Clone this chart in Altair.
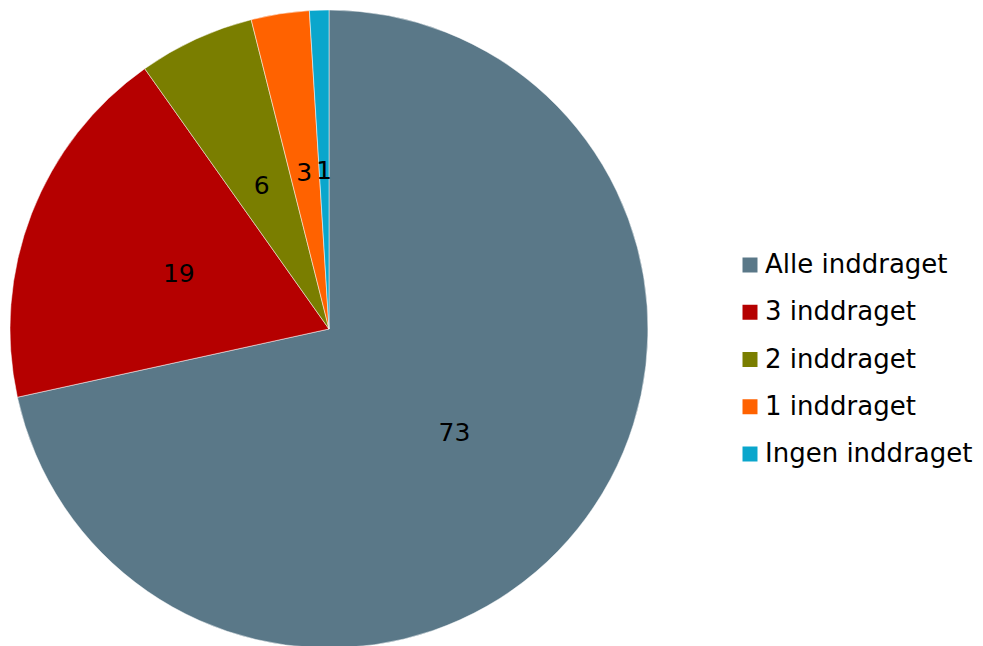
import altair as alt
import pandas as pd

categories = ["Alle inddraget", "3 inddraget", "2 inddraget", "1 inddraget", "Ingen inddraget"]
values = [73, 19, 6, 3, 1]
colors = ["#5A7888", "#B50000", "#7A7E00", "#FF6200", "#0AA6CC"]

df = pd.DataFrame({"category": categories, "value": values, "order": list(range(len(categories)))})

CX, CY = 321, 321

base = alt.Chart(df).encode(
    theta=alt.Theta("value:Q", stack=True),
    order=alt.Order("order:Q"),
)

arc = base.mark_arc(outerRadius=319, stroke="white", strokeWidth=0.5).encode(
    x=alt.value(CX),
    y=alt.value(CY),
    color=alt.Color(
        "category:N",
        scale=alt.Scale(domain=categories, range=colors),
        sort=categories,
        legend=alt.Legend(
            title=None,
            orient="none",
            legendX=729,
            legendY=244,
            symbolType="square",
            symbolSize=225,
            symbolStrokeWidth=0,
            labelFontSize=26,
            labelFont="DejaVu Sans",
            labelColor="black",
            labelOffset=2,
            rowPadding=21.25,
            labelLimit=400,
        ),
    ),
)

text = base.mark_text(radius=161, fontSize=25, font="DejaVu Sans", color="black",
                      align="center", baseline="middle", dy=3).encode(
    x=alt.value(CX),
    y=alt.value(CY),
    text=alt.Text("value:Q"),
)

chart = (arc + text).properties(
    width=967,
    height=640,
    padding=0,
    autosize=alt.AutoSizeParams(type="none"),
).configure_view(stroke=None)

chart.save("out.html", embed_options={"renderer": "svg", "actions": False})
